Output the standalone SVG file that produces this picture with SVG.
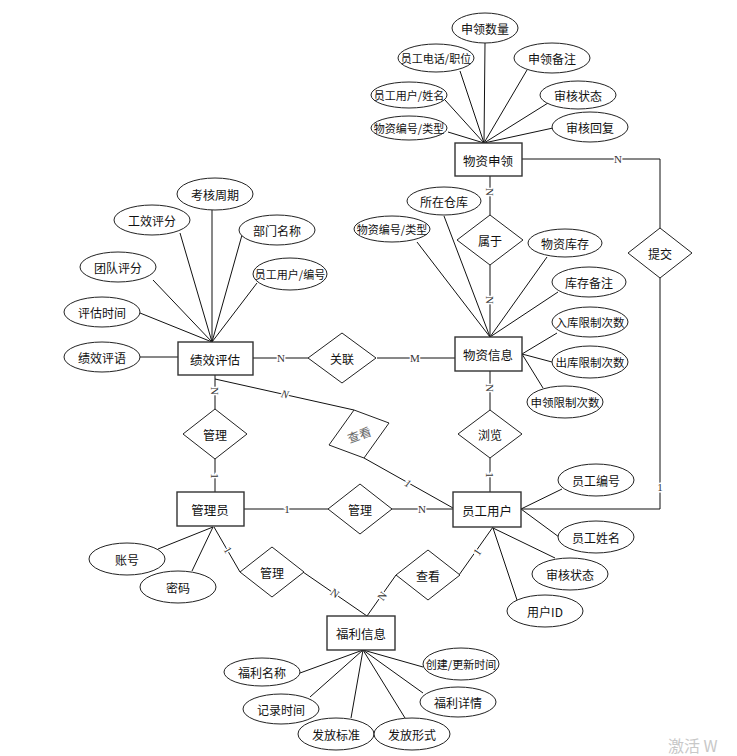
<svg xmlns="http://www.w3.org/2000/svg" width="737" height="756" viewBox="0 0 737 756">
<style>
.bg{fill:#fff}
.ent rect{fill:#fff;stroke:#333;stroke-width:1.4}
.rel polygon{fill:#fff;stroke:#222;stroke-width:1}
.att ellipse{fill:#fff;stroke:#222;stroke-width:1}
text{font-family:"Noto Sans CJK SC","Noto Sans",sans-serif;font-size:12px;fill:#111;text-anchor:middle;dominant-baseline:central}
.ent text{font-size:12.5px}
.sm{font-size:11px}
.md{font-size:11.5px}
#conn line,#conn polyline{stroke:#111;stroke-width:1;fill:none}
.card{font-family:"Liberation Serif",serif;font-size:11px;fill:#333;stroke:#fff;stroke-width:3;paint-order:stroke}
.it{font-style:italic}
</style>
<rect class="bg" x="0" y="0" width="737" height="756"/>
<g id="conn">
  <line x1="485" y1="43" x2="484" y2="143"/>
  <line x1="460" y1="71" x2="484" y2="143"/>
  <line x1="527" y1="70" x2="484" y2="143"/>
  <line x1="445" y1="100" x2="484" y2="143"/>
  <line x1="548" y1="103" x2="484" y2="143"/>
  <line x1="448" y1="132" x2="484" y2="143"/>
  <line x1="553" y1="128" x2="484" y2="143"/>
  <line x1="444" y1="216" x2="490" y2="337"/>
  <line x1="417" y1="242" x2="490" y2="337"/>
  <line x1="547" y1="257" x2="490" y2="337"/>
  <line x1="558" y1="292" x2="490" y2="337"/>
  <line x1="557" y1="333" x2="522" y2="354"/>
  <line x1="552" y1="362" x2="522" y2="354"/>
  <line x1="543" y1="388" x2="522" y2="354"/>
  <line x1="212" y1="210" x2="212" y2="342"/>
  <line x1="180" y1="233" x2="212" y2="342"/>
  <line x1="242" y1="235" x2="212" y2="342"/>
  <line x1="153" y1="280" x2="212" y2="342"/>
  <line x1="257" y1="283" x2="212" y2="342"/>
  <line x1="140" y1="313" x2="212" y2="342"/>
  <line x1="140" y1="357" x2="178" y2="357"/>
  <line x1="562" y1="489" x2="521" y2="509"/>
  <line x1="559" y1="537" x2="521" y2="509"/>
  <line x1="555" y1="558" x2="493" y2="528"/>
  <line x1="517" y1="600" x2="493" y2="528"/>
  <line x1="158" y1="549" x2="213" y2="527"/>
  <line x1="192" y1="571" x2="213" y2="527"/>
  <line x1="300" y1="673" x2="363" y2="650"/>
  <line x1="423" y1="667" x2="363" y2="650"/>
  <line x1="310" y1="697" x2="363" y2="650"/>
  <line x1="423" y1="693" x2="363" y2="650"/>
  <line x1="351" y1="718" x2="363" y2="650"/>
  <line x1="405" y1="718" x2="363" y2="650"/>
  <polyline points="522,159 660,159 660,228"/>
  <polyline points="660,278 660,509 521,509"/>
  <line x1="490" y1="176" x2="490" y2="215"/>
  <line x1="490" y1="265" x2="490" y2="337"/>
  <line x1="490" y1="371" x2="490" y2="410"/>
  <line x1="490" y1="458" x2="490" y2="492"/>
  <line x1="253" y1="358" x2="308" y2="358"/>
  <line x1="377" y1="358" x2="455" y2="358"/>
  <line x1="215" y1="375" x2="215" y2="409"/>
  <line x1="215" y1="459" x2="215" y2="492"/>
  <line x1="244" y1="509" x2="328" y2="509"/>
  <line x1="391" y1="509" x2="453" y2="509"/>
  <line x1="215" y1="379" x2="354" y2="410"/>
  <line x1="364" y1="458" x2="453" y2="508"/>
  <line x1="214" y1="527" x2="240" y2="572"/>
  <line x1="303" y1="572" x2="367" y2="616"/>
  <line x1="367" y1="616" x2="396" y2="575"/>
  <line x1="459" y1="575" x2="493" y2="527"/>
  <text class="card" x="618" y="159">N</text>
  <text class="card" x="660" y="487">1</text>
  <text class="card" transform="translate(490,192) rotate(90)">N</text>
  <text class="card" transform="translate(490,300) rotate(90)">N</text>
  <text class="card" transform="translate(490,388) rotate(90)">N</text>
  <text class="card" transform="translate(490,475) rotate(90)">1</text>
  <text class="card" x="281" y="358">N</text>
  <text class="card" x="415" y="358">M</text>
  <text class="card" transform="translate(215,391) rotate(90)">N</text>
  <text class="card" transform="translate(215,476) rotate(90)">1</text>
  <text class="card" x="287" y="509">1</text>
  <text class="card" x="422" y="509">N</text>
  <text class="card it" transform="translate(285,394) rotate(13)">N</text>
  <text class="card it" transform="translate(408,483) rotate(29)">1</text>
  <text class="card" transform="translate(228,550) rotate(60)">1</text>
  <text class="card" transform="translate(335,593) rotate(35)">N</text>
  <text class="card" transform="translate(382,596) rotate(-55)">N</text>
  <text class="card" transform="translate(477,552) rotate(-55)">1</text>
</g>
<g id="e_wzsl" class="ent"><rect x="455" y="143" width="67" height="33"/><text x="488" y="160">物资申领</text></g>
<g id="e_wzxx" class="ent"><rect x="455" y="337" width="67" height="34"/><text x="488" y="354">物资信息</text></g>
<g id="e_jxpg" class="ent"><rect x="178" y="342" width="75" height="33"/><text x="215" y="359">绩效评估</text></g>
<g id="e_gly" class="ent"><rect x="177" y="492" width="67" height="34"/><text x="210" y="509">管理员</text></g>
<g id="e_ygyh" class="ent"><rect x="453" y="492" width="68" height="35"/><text x="487" y="510">员工用户</text></g>
<g id="e_flxx" class="ent"><rect x="327" y="616" width="68" height="34"/><text x="361" y="633">福利信息</text></g>
<g id="r_sy" class="rel"><polygon points="490,215 523,240 490,265 457,240"/><text x="490" y="240">属于</text></g>
<g id="r_tj" class="rel"><polygon points="660,228 692,253 660,278 628,253"/><text x="660" y="253">提交</text></g>
<g id="r_gl1" class="rel"><polygon points="342,333 376,358 342,383 308,358"/><text x="342" y="358">关联</text></g>
<g id="r_gl2" class="rel"><polygon points="215,409 247,434 215,459 183,434"/><text x="215" y="434">管理</text></g>
<g id="r_ck1" class="rel"><polygon points="354,410 389,423 364,458 329,445"/><text transform="translate(359,434) rotate(-20)" style="fill:#666">查看</text></g>
<g id="r_gl3" class="rel"><polygon points="360,484 392,509 360,534 328,509"/><text x="360" y="509">管理</text></g>
<g id="r_ll" class="rel"><polygon points="490,410 522,434 490,458 458,434"/><text x="490" y="434">浏览</text></g>
<g id="r_gl4" class="rel"><polygon points="272,547 304,572 272,597 240,572"/><text x="272" y="572">管理</text></g>
<g id="r_ck2" class="rel"><polygon points="428,550 460,575 428,600 396,575"/><text x="428" y="575">查看</text></g>
<g id="a1" class="att"><ellipse cx="485" cy="28" rx="33" ry="15"/><text x="485" y="28">申领数量</text></g>
<g id="a2" class="att"><ellipse cx="436" cy="58" rx="38" ry="14"/><text class="sm" x="436" y="58">员工电话/职位</text></g>
<g id="a3" class="att"><ellipse cx="552" cy="58" rx="38" ry="15"/><text x="552" y="58">申领备注</text></g>
<g id="a4" class="att"><ellipse cx="409" cy="95" rx="38" ry="13"/><text class="sm" x="409" y="95">员工用户/姓名</text></g>
<g id="a5" class="att"><ellipse cx="578" cy="95" rx="38" ry="14"/><text x="578" y="95">审核状态</text></g>
<g id="a6" class="att"><ellipse cx="409" cy="128" rx="38" ry="12"/><text class="sm" x="409" y="128">物资编号/类型</text></g>
<g id="a7" class="att"><ellipse cx="590" cy="127" rx="38" ry="15"/><text x="590" y="127">审核回复</text></g>
<g id="a8" class="att"><ellipse cx="444" cy="201" rx="37" ry="14"/><text x="444" y="201">所在仓库</text></g>
<g id="a9" class="att"><ellipse cx="392" cy="229" rx="38" ry="13"/><text class="sm" x="392" y="229">物资编号/类型</text></g>
<g id="a10" class="att"><ellipse cx="565" cy="243" rx="37" ry="14"/><text x="565" y="243">物资库存</text></g>
<g id="a11" class="att"><ellipse cx="589" cy="282" rx="37" ry="15"/><text x="589" y="282">库存备注</text></g>
<g id="a12" class="att"><ellipse cx="590" cy="322" rx="38" ry="15"/><text class="md" x="590" y="322">入库限制次数</text></g>
<g id="a13" class="att"><ellipse cx="590" cy="362" rx="38" ry="16"/><text class="md" x="590" y="362">出库限制次数</text></g>
<g id="a14" class="att"><ellipse cx="565" cy="402" rx="38" ry="16"/><text class="md" x="565" y="402">申领限制次数</text></g>
<g id="a15" class="att"><ellipse cx="215" cy="194" rx="38" ry="16"/><text x="215" y="194">考核周期</text></g>
<g id="a16" class="att"><ellipse cx="152" cy="220" rx="38" ry="15"/><text x="152" y="220">工效评分</text></g>
<g id="a17" class="att"><ellipse cx="277" cy="230" rx="38" ry="15"/><text x="277" y="230">部门名称</text></g>
<g id="a18" class="att"><ellipse cx="118" cy="267" rx="38" ry="15"/><text x="118" y="267">团队评分</text></g>
<g id="a19" class="att"><ellipse cx="290" cy="274" rx="37" ry="16"/><text class="sm" x="290" y="274">员工用户/编号</text></g>
<g id="a20" class="att"><ellipse cx="102" cy="312" rx="38" ry="15"/><text x="102" y="312">评估时间</text></g>
<g id="a21" class="att"><ellipse cx="102" cy="357" rx="38" ry="15"/><text x="102" y="357">绩效评语</text></g>
<g id="a22" class="att"><ellipse cx="596" cy="480" rx="38" ry="16"/><text x="596" y="480">员工编号</text></g>
<g id="a23" class="att"><ellipse cx="596" cy="537" rx="38" ry="16"/><text x="596" y="537">员工姓名</text></g>
<g id="a24" class="att"><ellipse cx="570" cy="574" rx="38" ry="16"/><text x="570" y="574">审核状态</text></g>
<g id="a25" class="att"><ellipse cx="545" cy="611" rx="38" ry="16"/><text x="545" y="611">用户ID</text></g>
<g id="a26" class="att"><ellipse cx="127" cy="559" rx="38" ry="16"/><text x="127" y="559">账号</text></g>
<g id="a27" class="att"><ellipse cx="178" cy="587" rx="38" ry="16"/><text x="178" y="587">密码</text></g>
<g id="a28" class="att"><ellipse cx="262" cy="672" rx="38" ry="14"/><text x="262" y="672">福利名称</text></g>
<g id="a29" class="att"><ellipse cx="461" cy="664" rx="38" ry="16"/><text class="sm" x="461" y="664">创建/更新时间</text></g>
<g id="a30" class="att"><ellipse cx="281" cy="709" rx="38" ry="15"/><text x="281" y="709">记录时间</text></g>
<g id="a31" class="att"><ellipse cx="458" cy="702" rx="38" ry="15"/><text x="458" y="702">福利详情</text></g>
<g id="a32" class="att"><ellipse cx="336" cy="734" rx="38" ry="16"/><text x="336" y="734">发放标准</text></g>
<g id="a33" class="att"><ellipse cx="412" cy="734" rx="38" ry="16"/><text x="412" y="734">发放形式</text></g>
<text x="668" y="745" style="font-size:16px;fill:#c8c8c8;text-anchor:start">激活 W</text>
</svg>
